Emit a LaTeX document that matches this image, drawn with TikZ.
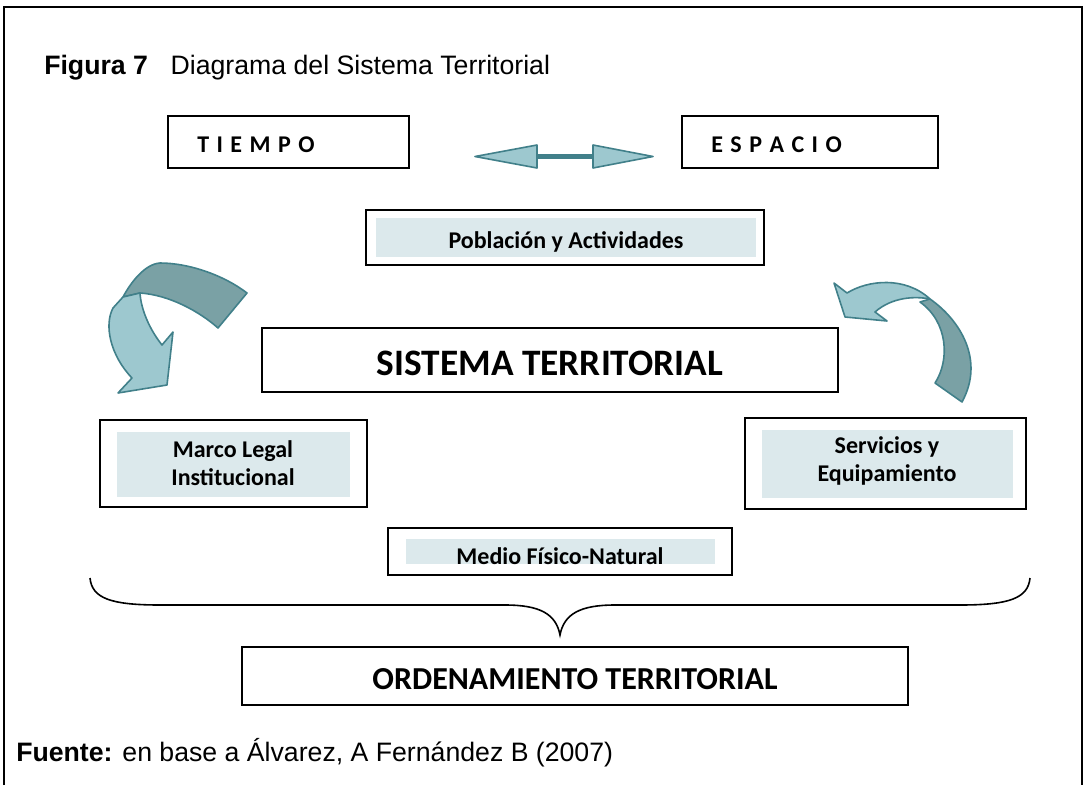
\documentclass[tikz,border=0pt]{standalone}
\usepackage{fontspec}
\setmainfont{Liberation Sans}
\newfontfamily\calibri{Carlito}
\usetikzlibrary{fit}

\definecolor{tealline}{HTML}{41808A}
\definecolor{tealpale}{HTML}{9DC8CF}
\definecolor{tealdark}{HTML}{7AA1A5}
\definecolor{boxfill}{HTML}{DCE9EC}

\tikzset{
  box/.style={draw, line width=1.6pt, inner sep=0pt},
  lbl/.style={font=\calibri\bfseries\fontsize{18}{21}\selectfont, align=center, inner sep=0pt},
  biglbl/.style={font=\calibri\bfseries\fontsize{28}{32}\selectfont, inner sep=0pt},
  caption/.style={font=\fontsize{20}{23}\selectfont, inner sep=0pt, anchor=base west},
  blockarrow/.style={draw=tealline, line width=1.2pt, line join=round}
}

\begin{document}
\begin{tikzpicture}[x=0.75pt, y=-0.75pt]
        \useasboundingbox (0,0) rectangle (1084,785);
        \draw[line width=1.5pt] (4,785) -- (4,7) -- (1082,7) -- (1082,785);

        \node[caption] (title) at (44,74) {\textbf{Figura 7}\hspace{17pt}Diagrama del Sistema Territorial};

        \node[box, fit={(168,116) (409,168)}] (tiempo) {};
        \node[lbl, anchor=base west] (tiempot) at (197,152) {{\spaceskip=5.6pt T I E M P O}};
        \node[box, fit={(682,116) (938,168)}] (espacio) {};
        \node[lbl, anchor=base west] (espaciot) at (711,152) {{\spaceskip=5.6pt E S P A C I O}};

        % double arrow tiempo <-> espacio
        \draw[tealline, line width=3.6pt] (537,156.5) -- (593,156.5);
        \filldraw[blockarrow, fill=tealpale] (475,156.5) -- (537,145) -- (537,168) -- cycle;
        \filldraw[blockarrow, fill=tealpale] (653,156.5) -- (593,145) -- (593,168) -- cycle;

        \node[box, fit={(366,210) (764,265)}] (pob) {};
        \fill[boxfill] (376,218) rectangle (756,257);
        \node[lbl, anchor=base] (pobt) at (566,248) {Población y Actividades};

        \node[box, fit={(262,328) (838,392)}] (sist) {};
        \node[biglbl, anchor=base] (sistt) at (550,375) {SISTEMA TERRITORIAL};

        \node[box, fit={(100,420) (367,507)}] (marco) {};
        \fill[boxfill] (117,432) rectangle (350,497);
        \node[lbl] (marcot) at (233,463) {Marco Legal\\Institucional};

        \node[box, fit={(745,418) (1026,509)}] (serv) {};
        \fill[boxfill] (762,430) rectangle (1013,498);
        \node[lbl] (servt) at (887,461) {Servicios y\\Equipamiento};

        \node[box, fit={(388,528) (732,575)}] (medio) {};
        \fill[boxfill] (406,539) rectangle (715,564);
        \node[lbl, anchor=base] (mediot) at (560,564) {Medio Físico-Natural};

        % curved arrow, left
        \filldraw[blockarrow, fill=tealdark] (123,297) .. controls (131,282) and (145,264) .. (160,263)
            .. controls (190,263) and (225,276) .. (247,293) -- (218,328)
            .. controls (200,312) and (170,295) .. (140,293) -- cycle;
        \filldraw[blockarrow, fill=tealpale] (140,293) -- (123,297) -- (113,308)
            .. controls (104,325) and (110,355) .. (132,378) -- (118,393) -- (167,385) -- (173,332) -- (162,345)
            .. controls (150,330) and (141,310) .. (140,293) -- cycle;

        % curved arrow, right
        \filldraw[blockarrow, fill=tealdark] (930,299) .. controls (960,320) and (985,360) .. (962,402)
            -- (935,383) .. controls (950,360) and (948,322) .. (920,302) -- cycle;
        \filldraw[blockarrow, fill=tealpale] (834,283) -- (847,293) .. controls (868,280) and (905,276) .. (930,299)
            .. controls (915,296) and (892,297) .. (875,312) -- (887,321) -- (845,317) -- cycle;

        % brace
        \draw[line width=1.2pt] (90,578) .. controls (92,598) and (110,605) .. (160,605) -- (505,605)
            .. controls (540,605) and (556,614) .. (560,635) .. controls (564,614) and (580,605) .. (615,605)
            -- (960,605) .. controls (1010,605) and (1028,598) .. (1030,578);

        \node[box, fit={(242,647) (908,705)}] (orden) {};
        \node[biglbl, font=\calibri\bfseries\fontsize{24}{28}\selectfont, anchor=base] (ordent) at (575,689) {ORDENAMIENTO TERRITORIAL};

        \node[caption] (fuente) at (16,761) {\textbf{Fuente:} en base a Álvarez, A Fernández B (2007)};
\end{tikzpicture}
\end{document}
